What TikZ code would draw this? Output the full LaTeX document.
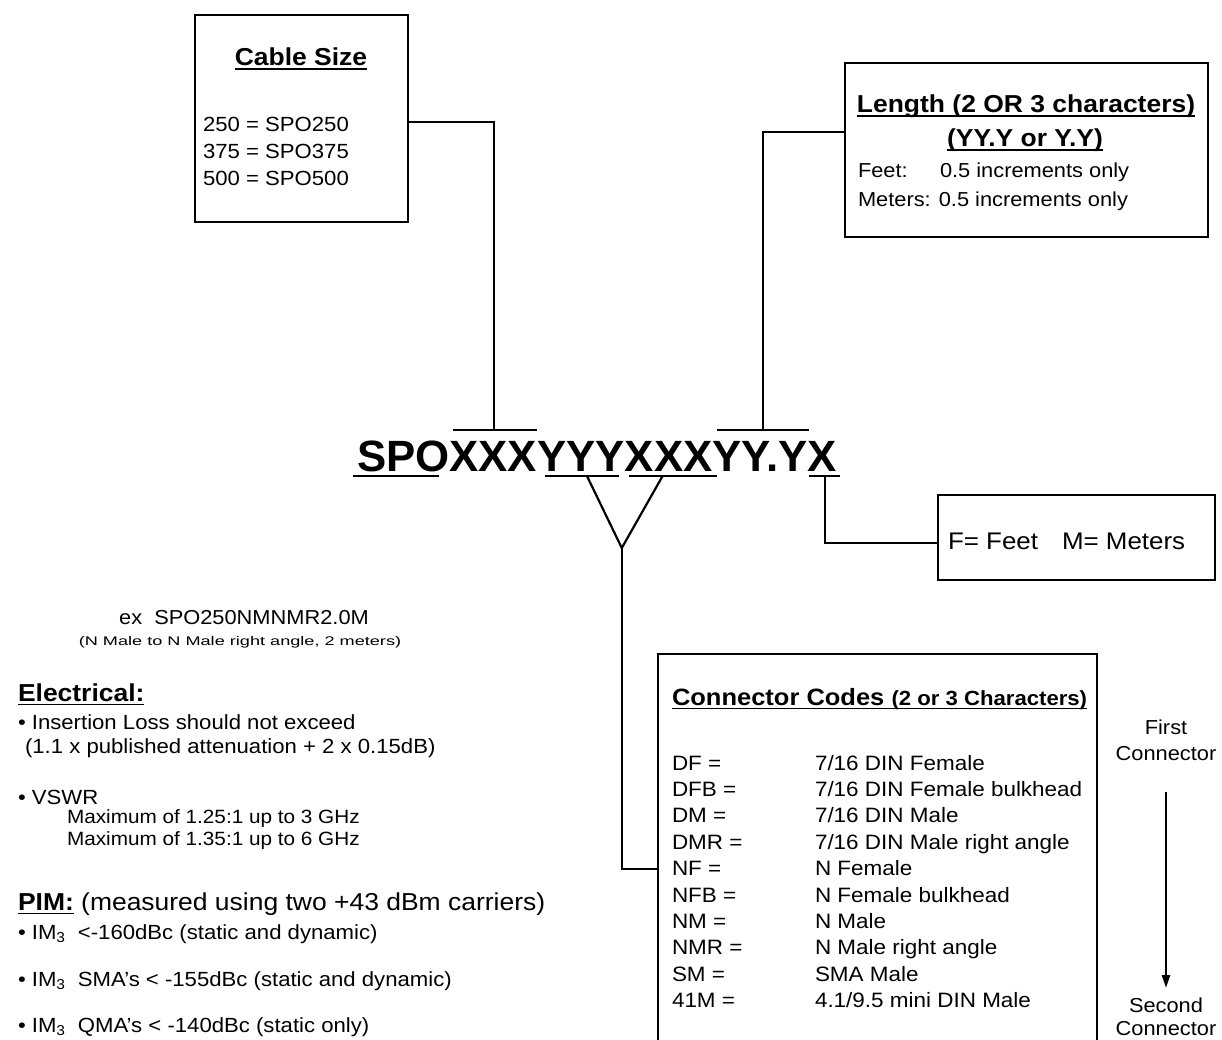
\documentclass[tikz,border=0pt]{standalone}
\usepackage{fontspec}
\setmainfont[FakeStretch=1.08]{Liberation Sans}
\newfontfamily\pnfont{Liberation Sans}
\newfontfamily\widefont[FakeStretch=1.45]{Liberation Sans}
\newsavebox\ulbox
\newcommand\ul[1]{\sbox\ulbox{#1}\rlap{\rule[-4pt]{\wd\ulbox}{1.5pt}}\usebox\ulbox}
\newcommand\fs[1]{\fontsize{#1}{#1}\selectfont}
\usetikzlibrary{arrows.meta,calc}
\tikzset{
  box/.style={draw, line width=2pt, inner sep=0pt, outer sep=0pt},
  lbl/.style={inner sep=0pt, outer sep=0pt, anchor=base west},
  clbl/.style={inner sep=0pt, outer sep=0pt, anchor=base},
  pn/.style={inner sep=0pt, outer sep=0pt, anchor=base west,
    font=\pnfont\bfseries\fontsize{43.8}{52}\selectfont},
  conn/.style={line width=2.2pt},
  bar/.style={line width=2pt},
}
\begin{document}
\begin{tikzpicture}[x=1pt,y=-1pt]
\useasboundingbox (0,0) rectangle (1222,1040);

% ---------- Cable Size box ----------
\node[box, minimum width=213pt, minimum height=207pt, anchor=north west] (cable) at (195,15) {};
\node[clbl] (cabletitle) at (301,66) {\fs{24.5}\bfseries\ul{Cable Size}};
\node[lbl] (c250) at (203,132) {\fs{20.5}250 = SPO250};
\node[lbl] (c375) at (203,159) {\fs{20.5}375 = SPO375};
\node[lbl] (c500) at (203,186) {\fs{20.5}500 = SPO500};

% ---------- Length box ----------
\node[box, minimum width=363pt, minimum height=174pt, anchor=north west] (len) at (845,63) {};
\node[clbl] (lentitle) at (1026,113) {\fs{24.5}\bfseries\ul{Length (2 OR 3 characters)}};
\node[clbl] (lenfmt) at (1025,147) {\fs{24.5}\bfseries\ul{(YY.Y or Y.Y)}};
\node[lbl] (feet) at (858,178) {\fs{20.2}Feet:};
\node[lbl] (feetv) at (940,178) {\fs{20.2}0.5 increments only};
\node[lbl] (meters) at (858,207) {\fs{20.2}Meters: 0.5 increments only};

% ---------- Part number ----------
\node[pn] (p1) at (357,471) {SPO};
\node[pn] (p2) at (p1.base east) {XXX};
\node[pn] (p3) at (p2.base east) {YYY};
\node[pn] (p4) at (p3.base east) {XXX};
\node[pn] (p5) at (p4.base east) {YY.Y};
\node[pn] (p6) at (p5.base east) {X};

% underlines
\draw[bar] ($(p1.base west)+(-4,5)$) -- ($(p1.base east)+(-11,5)$);
\draw[bar] ($(p3.base west)+(8,5)$) -- ($(p3.base east)+(-6,5)$);
\draw[bar] ($(p4.base west)+(4,5)$) -- ($(p4.base east)+(5,5)$);
\draw[bar] ($(p6.base west)+(2,5)$) -- ($(p6.base east)+(3,5)$);
% overbars
\draw[bar] ($(p2.base west)+(3,-41)$) -- ($(p2.base east)+(0,-41)$);
\draw[bar] ($(p5.base west)+(5,-41)$) -- ($(p5.base east)+(2,-41)$);

% ---------- F/M box ----------
\node[box, minimum width=277pt, minimum height=85pt, anchor=north west] (fm) at (938,495) {};
\node[lbl] (fmf) at (948,549) {\fs{24}F= Feet};
\node[lbl] (fmm) at (1062,549) {\fs{24}M= Meters};

% ---------- Connector codes box ----------
\node[inner sep=0pt, outer sep=0pt, minimum width=439pt, minimum height=386pt, anchor=north west] (codes) at (658,654) {};
\draw[line width=2pt] (codes.south west) |- (codes.north east) -- (codes.south east);
\node[lbl] (codestitle) at (672,705) {\fs{23.6}\bfseries\ul{Connector Codes\ }\fs{20.5}\ul{(2 or 3 Characters)}};
\foreach \c/\d [count=\i from 0] in {{DF =}/{7/16 DIN Female}, {DFB =}/{7/16 DIN Female bulkhead}, {DM =}/{7/16 DIN Male}, {DMR =}/{7/16 DIN Male right angle}, {NF =}/{N Female}, {NFB =}/{N Female bulkhead}, {NM =}/{N Male}, {NMR =}/{N Male right angle}, {SM =}/{SMA Male}, {41M =}/{4.1/9.5 mini DIN Male}}{
  \node[lbl] (code\i) at (672,{770+26.4*\i}) {\fs{20.8}\c};
  \node[lbl] (desc\i) at (815,{770+26.4*\i}) {\fs{20.8}\d};
}

% ---------- First / Second connector ----------
\node[clbl] (first1) at (1166,734) {\fs{20.2}First};
\node[clbl] (first2) at (1166,760) {\fs{20.2}Connector};
\node[clbl] (second1) at (1166,1012) {\fs{20.2}Second};
\node[clbl] (second2) at (1166,1035) {\fs{20.2}Connector};
\coordinate (arrtop) at (1166,792);
\coordinate (arrbot) at (1166,988);
\draw[line width=2.6pt, -{Triangle[length=13pt,width=8pt]}] (arrtop) -- (arrbot);

% ---------- Connectors ----------
\coordinate (cj) at ($(cable.north east)+(0,107)$);
\coordinate (ob2) at ($(p2.base)+(1,-41)$);
\draw[conn] (cj) -| (ob2);

\coordinate (lj) at ($(len.north west)+(0,69)$);
\coordinate (ob5) at ($(p5.base)+(3,-41)$);
\draw[conn] (lj) -| (ob5);

\coordinate (ul3) at ($(p3.base)+(6,5)$);
\coordinate (ul4) at ($(p4.base)+(-6,5)$);
\coordinate (vapex) at ($($(ul3)!0.5!(ul4)$)+(-3,72)$);
\coordinate (kj) at ($(codes.north west)+(0,215)$);
\draw[conn, line join=miter] (ul3) -- (vapex) -- (ul4);
\draw[conn] (vapex) |- (kj);

\coordinate (ul6) at ($(p6.base)+(3,5)$);
\coordinate (fj) at ($(fm.north west)+(0,48)$);
\draw[conn] (ul6) |- (fj);

% ---------- Left text ----------
\node[clbl] (ex) at (244,624) {\fs{20.2}ex\ \ SPO250NMNMR2.0M};
\node[clbl] (exnote) at (240,645) {\widefont\fs{12.5}(N Male to N Male right angle, 2 meters)};
\node[lbl] (elec) at (18,701) {\fs{24.5}\bfseries\ul{Electrical:}};
\node[lbl] (il1) at (18,729) {\fs{20.5}• Insertion Loss should not exceed};
\node[lbl] (il2) at (25,753) {\fs{20.5}(1.1 x published attenuation + 2 x 0.15dB)};
\node[lbl] (vswr) at (18,804) {\fs{20.5}• VSWR};
\node[lbl] (vswr1) at (67,823) {\fs{19.2}Maximum of 1.25:1 up to 3 GHz};
\node[lbl] (vswr2) at (67,845) {\fs{19.2}Maximum of 1.35:1 up to 6 GHz};
\node[lbl] (pim) at (18,910) {\fs{24.5}{\bfseries\ul{PIM:}} (measured using two +43 dBm carriers)};
\node[lbl] (im1) at (18,939) {\fs{20.5}• IM\textsubscript{3}\ \ <-160dBc (static and dynamic)};
\node[lbl] (im2) at (18,986) {\fs{20.5}• IM\textsubscript{3}\ \ SMA's < -155dBc (static and dynamic)};
\node[lbl] (im3) at (18,1032) {\fs{20.5}• IM\textsubscript{3}\ \ QMA's < -140dBc (static only)};
\end{tikzpicture}
\end{document}
